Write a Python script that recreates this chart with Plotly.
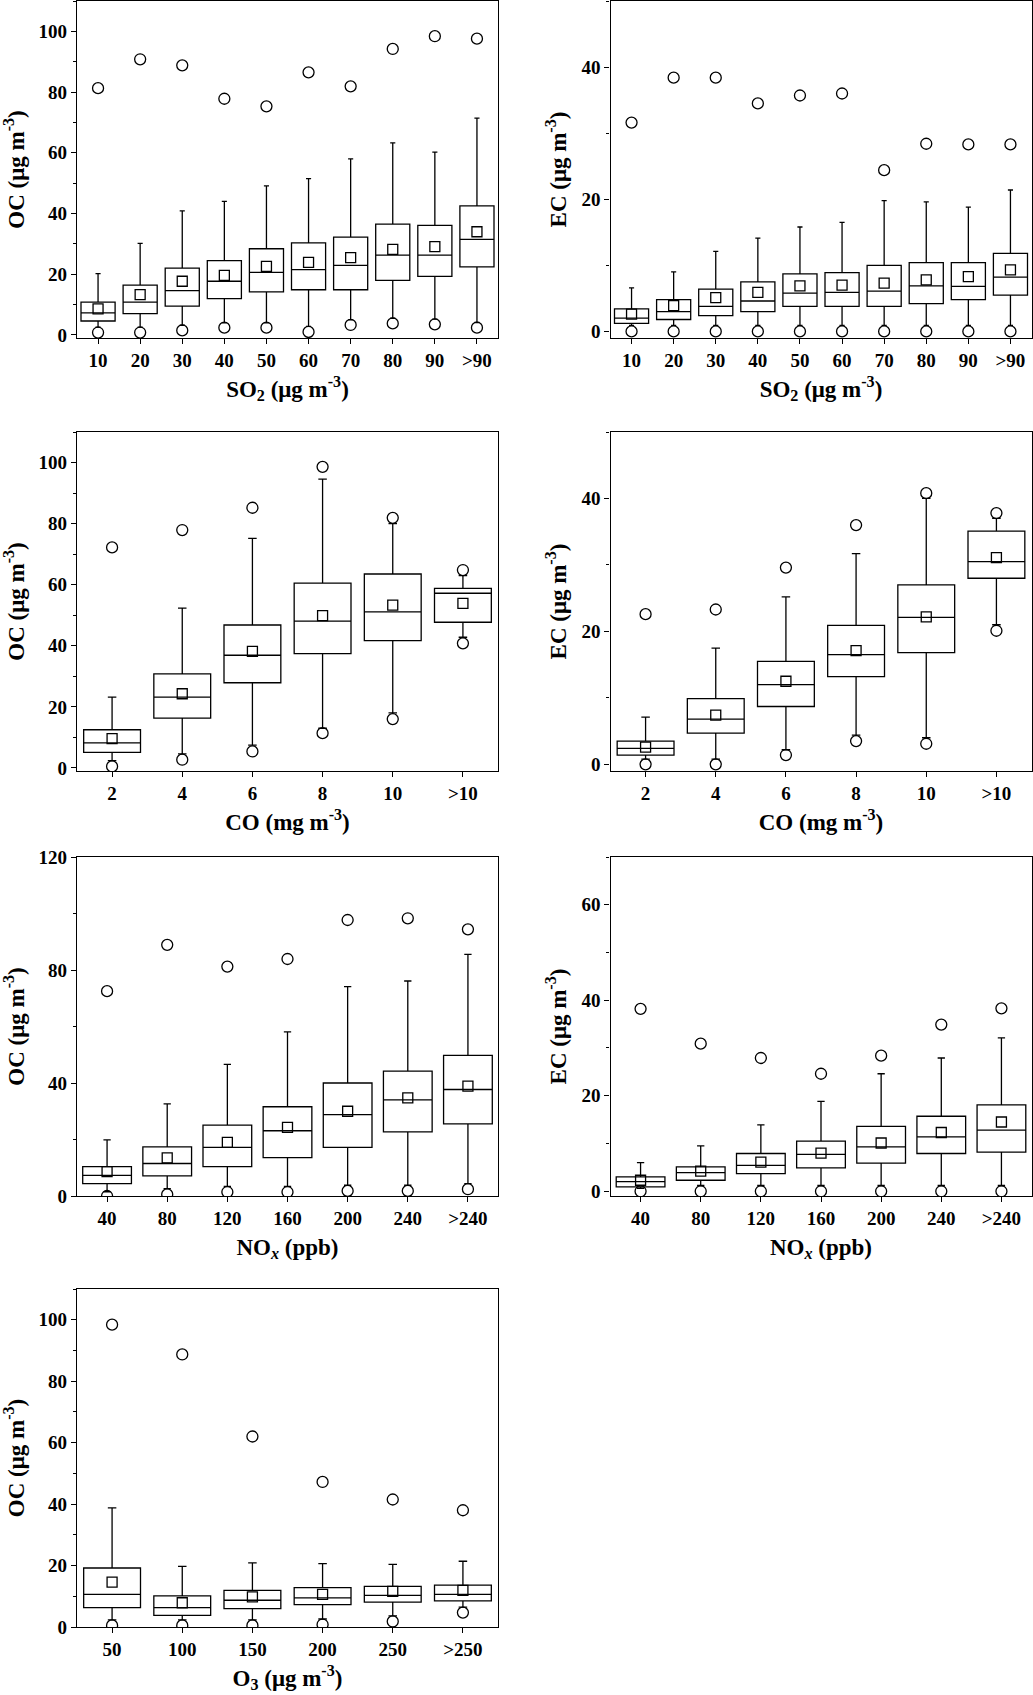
import plotly.graph_objects as go

# ---- OC vs SO2 ----
so2_cats = ['10', '20', '30', '40', '50', '60', '70', '80', '90', '>90']
oc_so2_q1 = [4.6, 7.0, 9.5, 12.0, 14.2, 14.9, 14.9, 18.0, 19.3, 22.4]
oc_so2_med = [7.3, 10.8, 14.6, 17.7, 20.6, 21.5, 22.9, 26.3, 26.3, 31.5]
oc_so2_q3 = [10.8, 16.4, 22.0, 24.5, 28.4, 30.3, 32.2, 36.5, 36.1, 42.5]
oc_so2_lo = [2.6, 2.6, 3.2, 4.0, 4.0, 2.8, 5.0, 5.5, 5.2, 4.1]
oc_so2_hi = [20.2, 30.2, 40.9, 44.0, 49.1, 51.5, 58.0, 63.3, 60.2, 71.4]
oc_so2_mean = [8.6, 13.3, 17.7, 19.6, 22.6, 23.9, 25.5, 28.2, 29.1, 34.0]
oc_so2_min = [0.8, 0.8, 1.5, 2.4, 2.4, 1.0, 3.3, 3.8, 3.5, 2.4]
oc_so2_max = [81.3, 90.8, 88.8, 77.8, 75.3, 86.5, 81.9, 94.2, 98.4, 97.6]

# ---- EC vs SO2 ----
ec_so2_q1 = [1.2, 1.8, 2.4, 3.0, 3.8, 3.8, 3.8, 4.2, 4.8, 5.5]
ec_so2_med = [2.0, 3.0, 3.8, 4.6, 5.8, 5.9, 6.1, 6.9, 6.8, 8.2]
ec_so2_q3 = [3.4, 4.8, 6.4, 7.5, 8.7, 8.9, 10.0, 10.4, 10.4, 11.8]
ec_so2_lo = [0.9, 0.9, 0.9, 0.9, 0.9, 0.9, 0.9, 0.9, 0.9, 0.9]
ec_so2_hi = [6.6, 9.0, 12.1, 14.1, 15.8, 16.5, 19.8, 19.6, 18.8, 21.4]
ec_so2_mean = [2.6, 3.9, 5.1, 5.9, 6.9, 7.0, 7.3, 7.8, 8.3, 9.3]
ec_so2_min = [0, 0, 0, 0, 0, 0, 0, 0, 0, 0]
ec_so2_max = [31.6, 38.4, 38.4, 34.5, 35.7, 36.0, 24.4, 28.4, 28.3, 28.3]

# ---- OC vs CO ----
co_cats = ['2', '4', '6', '8', '10', '>10']
oc_co_q1 = [5.1, 16.3, 27.9, 37.4, 41.7, 47.7]
oc_co_med = [8.2, 23.2, 36.9, 48.1, 51.1, 57.2]
oc_co_q3 = [12.5, 30.8, 46.8, 60.5, 63.5, 58.8]
oc_co_lo = [2.4, 4.6, 7.5, 13.0, 18.0, 42.8]
oc_co_hi = [23.2, 52.3, 75.2, 94.6, 80.0, 63.0]
oc_co_mean = [9.6, 24.3, 38.2, 49.9, 53.3, 53.9]
oc_co_min = [0.5, 2.7, 5.4, 11.4, 16.0, 40.8]
oc_co_max = [72.2, 77.9, 85.2, 98.6, 81.9, 64.8]

# ---- EC vs CO ----
ec_co_q1 = [1.4, 4.7, 8.7, 13.2, 16.8, 28.0]
ec_co_med = [2.4, 6.8, 12.0, 16.5, 22.1, 30.5]
ec_co_q3 = [3.5, 9.9, 15.5, 20.9, 27.0, 35.1]
ec_co_lo = [0.8, 0.8, 2.2, 4.4, 4.0, 21.0]
ec_co_hi = [7.1, 17.5, 25.2, 31.7, 40.0, 37.0]
ec_co_mean = [2.6, 7.4, 12.5, 17.1, 22.2, 31.1]
ec_co_min = [0.0, 0.0, 1.4, 3.5, 3.1, 20.1]
ec_co_max = [22.6, 23.3, 29.6, 36.0, 40.8, 37.8]

# ---- OC vs NOx ----
nox_cats = ['40', '80', '120', '160', '200', '240', '>240']
oc_nox_q1 = [4.4, 7.1, 10.4, 13.6, 17.2, 22.7, 25.5]
oc_nox_med = [7.3, 11.5, 17.2, 23.1, 28.8, 34.0, 37.7]
oc_nox_q3 = [10.4, 17.4, 25.1, 31.6, 40.0, 44.2, 49.8]
oc_nox_lo = [1.5, 2.6, 3.4, 3.4, 3.8, 3.8, 4.4]
oc_nox_hi = [19.9, 32.6, 46.6, 58.1, 74.1, 76.1, 85.5]
oc_nox_mean = [8.6, 13.5, 19.0, 24.3, 30.0, 34.7, 38.9]
oc_nox_min = [0.0, 0.6, 1.4, 1.4, 1.8, 1.8, 2.4]
oc_nox_max = [72.5, 88.9, 81.2, 83.9, 97.7, 98.3, 94.4]

# ---- EC vs NOx ----
ec_nox_q1 = [0.9, 2.3, 3.7, 4.9, 5.9, 7.9, 8.2]
ec_nox_med = [2.0, 3.9, 5.4, 7.7, 9.3, 11.4, 12.8]
ec_nox_q3 = [3.0, 5.1, 7.9, 10.5, 13.6, 15.7, 18.1]
ec_nox_lo = [0.6, 1.2, 1.2, 1.2, 1.2, 1.2, 1.2]
ec_nox_hi = [6.0, 9.5, 13.9, 18.8, 24.6, 27.9, 32.1]
ec_nox_mean = [2.3, 4.2, 6.1, 8.0, 10.1, 12.3, 14.5]
ec_nox_min = [0, 0, 0, 0, 0, 0, 0]
ec_nox_max = [38.2, 30.9, 27.9, 24.6, 28.4, 34.9, 38.3]

# ---- OC vs O3 ----
o3_cats = ['50', '100', '150', '200', '250', '>250']
oc_o3_q1 = [6.3, 3.8, 6.0, 7.3, 8.1, 8.5]
oc_o3_med = [10.6, 6.3, 8.7, 9.5, 10.3, 10.6]
oc_o3_q3 = [19.2, 10.1, 11.9, 12.8, 13.2, 13.6]
oc_o3_lo = [2.3, 2.3, 2.3, 2.6, 3.6, 6.5]
oc_o3_hi = [38.8, 19.7, 20.9, 20.6, 20.4, 21.4]
oc_o3_mean = [14.6, 7.9, 9.8, 10.6, 11.6, 11.9]
oc_o3_min = [0.5, 0.5, 0.5, 0.8, 1.8, 4.7]
oc_o3_max = [98.4, 88.7, 62.0, 47.2, 41.5, 38.0]

OC_T = 'OC (μg m<sup>-3</sup>)'
EC_T = 'EC (μg m<sup>-3</sup>)'
panels = [
    (so2_cats, oc_so2_q1, oc_so2_med, oc_so2_q3, oc_so2_lo, oc_so2_hi, oc_so2_mean, oc_so2_min, oc_so2_max,
     'SO<sub>2</sub> (μg m<sup>-3</sup>)', OC_T, [-1, 110], 20),
    (so2_cats, ec_so2_q1, ec_so2_med, ec_so2_q3, ec_so2_lo, ec_so2_hi, ec_so2_mean, ec_so2_min, ec_so2_max,
     'SO<sub>2</sub> (μg m<sup>-3</sup>)', EC_T, [-1, 50], 20),
    (co_cats, oc_co_q1, oc_co_med, oc_co_q3, oc_co_lo, oc_co_hi, oc_co_mean, oc_co_min, oc_co_max,
     'CO (mg m<sup>-3</sup>)', OC_T, [-1, 110], 20),
    (co_cats, ec_co_q1, ec_co_med, ec_co_q3, ec_co_lo, ec_co_hi, ec_co_mean, ec_co_min, ec_co_max,
     'CO (mg m<sup>-3</sup>)', EC_T, [-1, 50], 20),
    (nox_cats, oc_nox_q1, oc_nox_med, oc_nox_q3, oc_nox_lo, oc_nox_hi, oc_nox_mean, oc_nox_min, oc_nox_max,
     'NO<sub><i>x</i></sub> (ppb)', OC_T, [0, 120], 40),
    (nox_cats, ec_nox_q1, ec_nox_med, ec_nox_q3, ec_nox_lo, ec_nox_hi, ec_nox_mean, ec_nox_min, ec_nox_max,
     'NO<sub><i>x</i></sub> (ppb)', EC_T, [-1, 70], 20),
    (o3_cats, oc_o3_q1, oc_o3_med, oc_o3_q3, oc_o3_lo, oc_o3_hi, oc_o3_mean, oc_o3_min, oc_o3_max,
     'O<sub>3</sub> (μg m<sup>-3</sup>)', OC_T, [0, 110], 20),
]

W, H = 1033, 1695
col_px = [(77, 498), (610.5, 1031.5)]
row_px = [(1, 338), (432, 771), (857, 1196), (1289, 1627)]

FONT = 'Liberation Serif'
fig = go.Figure()
layout = {}

for i, (cats, q1, med, q3, lo, hi, mean, mn, mx, xt, yt, yr, dt) in enumerate(panels):
    n = '' if i == 0 else str(i + 1)
    xa, ya = 'x' + n, 'y' + n
    c0, c1 = col_px[i % 2]
    r0, r1 = row_px[i // 2]

    fig.add_trace(go.Box(
        x=cats, q1=q1, median=med, q3=q3, lowerfence=lo, upperfence=hi,
        width=0.81, whiskerwidth=0.15, fillcolor='white',
        line=dict(color='black', width=1.3), xaxis=xa, yaxis=ya, showlegend=False))
    fig.add_trace(go.Scatter(
        x=cats + cats, y=mn + mx, mode='markers', xaxis=xa, yaxis=ya, showlegend=False,
        marker=dict(symbol='circle-open', size=11, color='black', line=dict(width=1.3))))
    fig.add_trace(go.Scatter(
        x=cats, y=mean, mode='markers', xaxis=xa, yaxis=ya, showlegend=False,
        marker=dict(symbol='square-open', size=10, color='black', line=dict(width=1.3))))

    layout['xaxis' + n] = dict(
        domain=[c0 / W, c1 / W], anchor=ya, type='category', range=[-0.5, len(cats) - 0.5],
        showline=True, linecolor='black', linewidth=1.4, mirror=True,
        ticks='outside', ticklen=5, tickwidth=1.2, tickcolor='black',
        showgrid=False, zeroline=False, automargin=False,
        tickfont=dict(family=FONT, size=19, color='black', weight='bold'),
        title=dict(text=xt, standoff=10, font=dict(family=FONT, size=23, color='black', weight='bold')))
    layout['yaxis' + n] = dict(
        domain=[1 - r1 / H, 1 - r0 / H], anchor=xa, range=yr, dtick=dt, tick0=0,
        showline=True, linecolor='black', linewidth=1.4, mirror=True,
        ticks='outside', ticklen=5, tickwidth=1.2, tickcolor='black',
        minor=dict(dtick=dt / 2, tick0=0, ticks='outside', ticklen=3, tickcolor='black', tickwidth=1),
        showgrid=False, zeroline=False, automargin=False,
        tickfont=dict(family=FONT, size=19, color='black', weight='bold'),
        title=dict(text=yt, standoff=8, font=dict(family=FONT, size=23, color='black', weight='bold')))

fig.update_layout(
    width=W, height=H, margin=dict(l=0, r=0, t=0, b=0),
    plot_bgcolor='white', paper_bgcolor='white', **layout)

# page margin off so the figure sits at the window's top-left corner
fig.write_html("out.html", config={'displayModeBar': False},
               post_script="document.body.style.margin='0';")
